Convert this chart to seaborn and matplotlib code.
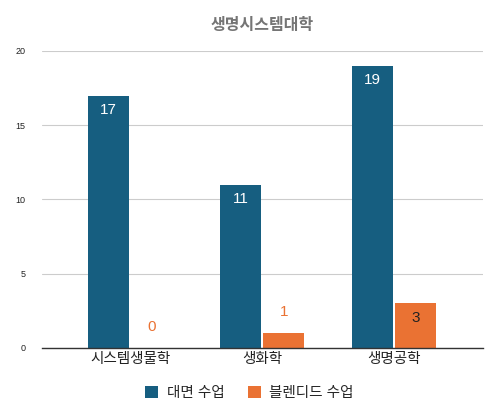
import pandas as pd
import matplotlib
matplotlib.use('Agg')
import matplotlib.pyplot as plt
import seaborn as sns

# chart data
departments = ['시스템생물학', '생화학', '생명공학']
face_to_face = [17, 11, 19]
blended = [0, 1, 3]
series_names = ['대면 수업', '블렌디드 수업']
colors = {'대면 수업': '#165E80', '블렌디드 수업': '#EA7233'}
y_ticks = [0, 5, 10, 15, 20]

df = pd.DataFrame({
    'dept': departments * 2,
    'count': face_to_face + blended,
    'type': [series_names[0]] * 3 + [series_names[1]] * 3,
})

sns.set_theme(style='white')
plt.rcParams['font.family'] = ['Liberation Sans', 'Noto Sans CJK KR', 'DejaVu Sans']

fig = plt.figure(figsize=(5.02, 4.18), dpi=100)
ax = fig.add_axes([0.0837, 0.1675, 0.8785, 0.7105])

sns.barplot(data=df, x='dept', y='count', hue='type', palette=colors,
            width=0.655, gap=0.04, saturation=1, linewidth=0, ax=ax, legend=True)

ax.set_xlim(-0.667, 2.674)
ax.set_ylim(0, 20)
ax.set_yticks(y_ticks)
ax.set_yticklabels([str(t) for t in y_ticks], fontsize=6.5, color='#222222')
ax.tick_params(axis='x', labelsize=10.5, colors='#222222', length=0, pad=3)
ax.tick_params(axis='y', length=0, pad=12)
ax.yaxis.grid(True, color='#cccccc', linewidth=0.8)
ax.set_axisbelow(True)
for s in ['top', 'right', 'left']:
    ax.spines[s].set_visible(False)
ax.spines['bottom'].set_color('#333333')
ax.spines['bottom'].set_linewidth(1.0)
ax.set_xlabel('')
ax.set_ylabel('')

ax.set_title('생명시스템대학', fontsize=11.5, fontweight='bold', color='#757575', pad=15)

# value labels: inside the bar when it fits, above it otherwise
for cont, name in zip(ax.containers, series_names):
    for bar in cont:
        h = bar.get_height()
        x = bar.get_x() + bar.get_width() / 2
        px_height = ax.transData.transform((0, h))[1] - ax.transData.transform((0, 0))[1]
        if px_height > 30:
            col = 'white' if name == series_names[0] else '#222222'
            ax.annotate(f'{int(h)}', (x, h), xytext=(0, -5.5), textcoords='offset points',
                        ha='center', va='top', fontsize=11, color=col)
        else:
            ax.annotate(f'{int(h)}', (x, h), xytext=(0, 10), textcoords='offset points',
                        ha='center', va='bottom', fontsize=11, color=colors[name])

leg = ax.legend(loc='upper center', bbox_to_anchor=(0.47, -0.085), ncol=2, frameon=False,
                fontsize=10.5, handlelength=0.9, handleheight=0.9, columnspacing=1.6,
                handletextpad=0.6)

fig.savefig('out.png', dpi=100)
